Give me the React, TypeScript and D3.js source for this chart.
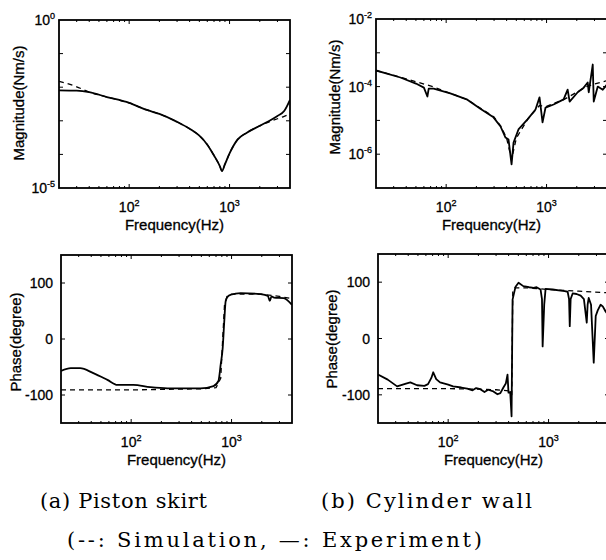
import * as d3 from 'd3';

// x range of every panel (Hz)
const freqDomain = [20, 4000];
const freqMajor = [100, 1000];

// (a) piston skirt, magnitude (Nm/s)
const magAFreq = [20, 30, 40, 60, 100, 150, 200, 300, 400, 500, 600, 700, 800, 840, 900, 1000, 1200, 1500, 2000, 3000, 3500, 4000];
const magAExp = [8.1e-3, 7.9e-3, 7.1e-3, 5.1e-3, 3.4e-3, 2.1e-3, 1.6e-3, 9.3e-4, 5.8e-4, 3.6e-4, 1.95e-4, 9.3e-5, 4.5e-5, 3.2e-5, 5.1e-5, 1.07e-4, 2.75e-4, 4.5e-4, 7.1e-4, 1.4e-3, 1.95e-3, 4.2e-3];
const magASim = [1.5e-2, 1.03e-2, 7.1e-3, 5.1e-3, 3.4e-3, 2.1e-3, 1.6e-3, 9.3e-4, 5.8e-4, 3.6e-4, 1.95e-4, 9.3e-5, 4.5e-5, 3.2e-5, 5.1e-5, 1.07e-4, 2.75e-4, 4.5e-4, 7.1e-4, 1.15e-3, 1.35e-3, 1.6e-3];

// (b) cylinder wall, magnitude (Nm/s)
const magBFreq = [20, 35, 50, 60, 65, 67, 75, 110, 160, 219, 296, 348, 390, 418, 448, 469, 525, 646, 776, 851, 912, 977, 1175, 1479, 1622, 1698, 2042, 2344, 2570, 2630, 2884, 2951, 3236, 3631, 4000];
const magBExp = [3.0e-4, 1.86e-4, 1.23e-4, 9.3e-5, 5.1e-5, 8.7e-5, 8.7e-5, 6.3e-5, 4.2e-5, 2.2e-5, 1.23e-5, 6.6e-6, 3.1e-6, 2.7e-6, 5.0e-7, 2.2e-6, 5.4e-6, 1.07e-5, 2.1e-5, 4.8e-5, 8.7e-6, 2.4e-5, 2.95e-5, 4.2e-5, 8.1e-5, 3.6e-5, 6.8e-5, 9.3e-5, 1.32e-4, 6.8e-5, 4.5e-4, 3.6e-5, 1.0e-4, 8.1e-5, 1.15e-4];
const magBSimFreq = [20, 35, 50, 75, 110, 160, 220, 300, 350, 400, 448, 500, 650, 850, 1000, 1500, 2000, 2500, 3000, 4000];
const magBSim = [3.0e-4, 1.9e-4, 1.4e-4, 9.8e-5, 6.3e-5, 4.2e-5, 2.3e-5, 1.25e-5, 6.8e-6, 3.0e-6, 7e-7, 3.0e-6, 1.1e-5, 2.75e-5, 2.6e-5, 4.2e-5, 6.8e-5, 1.0e-4, 1.2e-4, 1.5e-4];

// (a) piston skirt, phase (degree)
const phAFreq = [20, 25, 31, 42, 58, 73, 105, 155, 230, 490, 660, 740, 780, 816, 845, 874, 920, 980, 1230, 1950, 2300, 2400, 2500, 2650, 3300, 4000];
const phAExp = [-57, -52, -52, -61, -73, -82, -82, -86, -88, -88, -84, -75, -45, -16, 30, 68, 76, 79, 82, 80, 77, 68, 76, 74, 73, 61];
const phASimFreq = [20, 100, 200, 500, 700, 780, 816, 850, 900, 1000, 2000, 3000, 4000];
const phASim = [-91, -91, -90, -89, -87, -70, 0, 60, 76, 80, 80, 76, 72];

// (b) cylinder wall, phase (degree)
const phBFreq = [20, 25, 31, 38, 42, 49, 58, 63, 68, 71, 76, 83, 100, 112, 135, 155, 175, 190, 209, 230, 250, 282, 310, 331, 355, 375, 390, 399, 415, 428, 438, 469, 502, 560, 640, 709, 760, 832, 860, 873, 905, 934, 1100, 1320, 1450, 1549, 1600, 1626, 1660, 1738, 1900, 2089, 2250, 2400, 2450, 2512, 2650, 2818, 2950, 3090, 3300, 3467, 3700, 4000];
const phBExp = [-64, -73, -85, -80, -78, -83, -84, -81, -70, -60, -72, -78, -82, -85, -87, -89, -92, -88, -90, -95, -91, -94, -99, -97, -87, -80, -64, -96, -95, -138, 69, 92, 99, 93, 91, 90, 91, 87, 70, -14, 60, 88, 87, 85, 84, 83, 70, 22, 70, 80, 79, 76, 70, 28, 60, 72, 60, -43, 40, 50, 60, 57, 48, 40];
const phBSimFreq = [20, 100, 200, 300, 400, 430, 440, 460, 600, 1000, 2000, 4000];
const phBSim = [-89, -89, -90, -91, -93, -100, 85, 90, 90, 87, 84, 81];

type Series = { freq: number[]; vals: number[]; dashed?: boolean; smooth?: boolean };
type Box = { x0: number; x1: number; y0: number; y1: number };

const sans = 'Liberation Sans, Arial, sans-serif';
const serif = 'DejaVu Serif, serif';
const heavy = { stroke: '#000', strokeWidth: 0.3 };

function Panel({ id, box, yLog, yDomain, yTicks, yLabels, ylabel, ylabelPos, series }: {
  id: string; box: Box; yLog: boolean; yDomain: number[]; yTicks: number[];
  yLabels: { v: number; base: string; exp?: string }[];
  ylabel: string; ylabelPos: [number, number]; series: Series[];
}) {
  const x = d3.scaleLog().domain(freqDomain).range([box.x0, box.x1]);
  const y = (yLog ? d3.scaleLog() : d3.scaleLinear()).domain(yDomain).range([box.y1, box.y0]);

  // minor ticks on the log frequency axis
  const minor: number[] = [];
  [10, 100, 1000].forEach(d => {
    for (let k = 1; k <= 9; k++) {
      const f = k * d;
      if (f > freqDomain[0] && f < freqDomain[1] && !freqMajor.includes(f)) minor.push(f);
    }
  });

  return (
    <g>
      <defs>
        <clipPath id={id}>
          <rect x={box.x0} y={box.y0} width={box.x1 - box.x0} height={box.y1 - box.y0} />
        </clipPath>
      </defs>
      <g clipPath={`url(#${id})`}>
        {series.map((s, i) => {
          const line = d3.line<[number, number]>()
            .x(d => x(d[0]))
            .y(d => y(d[1]))
            .curve(s.smooth ? d3.curveMonotoneX : d3.curveLinear);
          const pts = s.freq.map((f, j) => [f, s.vals[j]] as [number, number]);
          return (
            <path key={i} d={line(pts) || ''} fill="none" stroke="#000"
              strokeWidth={s.dashed ? 1.3 : 1.8}
              strokeDasharray={s.dashed ? '5,4' : undefined}
              strokeLinejoin="round" />
          );
        })}
        {minor.map(f => (
          <g key={f}>
            <line x1={x(f)} x2={x(f)} y1={box.y1} y2={box.y1 - 2} stroke="#000" strokeWidth={1} />
            <line x1={x(f)} x2={x(f)} y1={box.y0} y2={box.y0 + 2} stroke="#000" strokeWidth={1} />
          </g>
        ))}
        {freqMajor.map(f => (
          <g key={f}>
            <line x1={x(f)} x2={x(f)} y1={box.y1} y2={box.y1 - 4} stroke="#000" strokeWidth={1} />
            <line x1={x(f)} x2={x(f)} y1={box.y0} y2={box.y0 + 4} stroke="#000" strokeWidth={1} />
          </g>
        ))}
        {yTicks.map(v => (
          <g key={v}>
            <line x1={box.x0} x2={box.x0 + 4} y1={y(v)} y2={y(v)} stroke="#000" strokeWidth={1} />
            <line x1={box.x1} x2={box.x1 - 4} y1={y(v)} y2={y(v)} stroke="#000" strokeWidth={1} />
          </g>
        ))}
      </g>
      <rect x={box.x0} y={box.y0} width={box.x1 - box.x0} height={box.y1 - box.y0}
        fill="none" stroke="#000" strokeWidth={1.8} />
      {freqMajor.map(f => (
        <text key={f} x={x(f)} y={box.y1 + 24} textAnchor="middle" fontFamily={sans} fontSize={14} {...heavy}>
          10<tspan dy={-6} fontSize={9}>{Math.round(Math.log10(f))}</tspan>
        </text>
      ))}
      {yLabels.map(l => (
        <text key={l.v} x={box.x0 - (l.exp ? 4 : 8)} y={y(l.v) + 5} textAnchor="end" fontFamily={sans} fontSize={14} {...heavy}>
          {l.base}{l.exp ? <tspan dy={-6} fontSize={9}>{l.exp}</tspan> : null}
        </text>
      ))}
      <text x={(box.x0 + box.x1) / 2} y={box.y1 + 42} textAnchor="middle" fontFamily={sans} fontSize={15} {...heavy}>
        Frequency(Hz)
      </text>
      <text transform={`translate(${ylabelPos[0]},${ylabelPos[1]}) rotate(-90)`} textAnchor="middle"
        dominantBaseline="central" fontFamily={sans} fontSize={15} {...heavy}>
        {ylabel}
      </text>
    </g>
  );
}

export default function App() {
  return (
    <svg width={606} height={560} style={{ position: 'absolute', left: 0, top: 0, background: '#fff' }}>
      <rect width={606} height={560} fill="#fff" />
      <Panel id="ma" box={{ x0: 59, x1: 290, y0: 20, y1: 188 }} yLog yDomain={[1e-5, 1]}
        yTicks={[1e-4, 1e-3, 1e-2, 1e-1]}
        yLabels={[{ v: 1, base: '10', exp: '0' }, { v: 1e-5, base: '10', exp: '-5' }]}
        ylabel="Magnitude(Nm/s)" ylabelPos={[18, 103]}
        series={[
          { freq: magAFreq, vals: magASim, dashed: true, smooth: true },
          { freq: magAFreq, vals: magAExp, smooth: true },
        ]} />
      <Panel id="mb" box={{ x0: 376, x1: 607, y0: 19, y1: 188 }} yLog yDomain={[1e-7, 1e-2]}
        yTicks={[1e-6, 1e-5, 1e-4, 1e-3]}
        yLabels={[{ v: 1e-2, base: '10', exp: '-2' }, { v: 1e-4, base: '10', exp: '-4' }, { v: 1e-6, base: '10', exp: '-6' }]}
        ylabel="Magnitude(Nm/s)" ylabelPos={[334, 97]}
        series={[
          { freq: magBSimFreq, vals: magBSim, dashed: true },
          { freq: magBFreq, vals: magBExp },
        ]} />
      <Panel id="pa" box={{ x0: 61, x1: 292, y0: 255, y1: 423 }} yLog={false} yDomain={[-150, 150]}
        yTicks={[-100, 0, 100]}
        yLabels={[{ v: 100, base: '100' }, { v: 0, base: '0' }, { v: -100, base: '-100' }]}
        ylabel="Phase(degree)" ylabelPos={[15, 342]}
        series={[
          { freq: phASimFreq, vals: phASim, dashed: true },
          { freq: phAFreq, vals: phAExp, smooth: true },
        ]} />
      <Panel id="pb" box={{ x0: 378, x1: 609, y0: 254, y1: 423 }} yLog={false} yDomain={[-150, 150]}
        yTicks={[-100, 0, 100]}
        yLabels={[{ v: 100, base: '100' }, { v: 0, base: '0' }, { v: -100, base: '-100' }]}
        ylabel="Phase(degree)" ylabelPos={[331, 339]}
        series={[
          { freq: phBSimFreq, vals: phBSim, dashed: true },
          { freq: phBFreq, vals: phBExp },
        ]} />
      <text x={40} y={508} textLength={167} lengthAdjust="spacing" fontFamily={serif} fontSize={21}>(a) Piston skirt</text>
      <text x={321} y={508} textLength={211} lengthAdjust="spacing" fontFamily={serif} fontSize={21}>(b) Cylinder wall</text>
      <text x={67} y={547} textLength={415} lengthAdjust="spacing" fontFamily={serif} fontSize={21}>(--: Simulation,  —: Experiment)</text>
    </svg>
  );
}
